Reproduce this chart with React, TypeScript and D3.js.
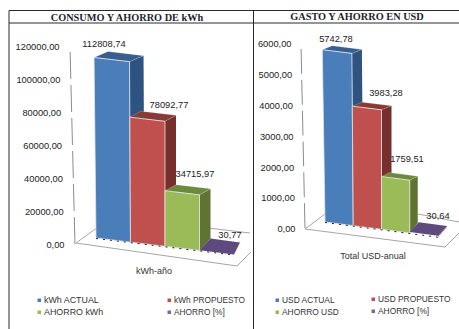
import React from "react";
import * as d3 from "d3";

// Energy panel
const kwhSeries = ["kWh ACTUAL", "kWh PROPUESTO", "AHORRO kWh", "AHORRO [%]"];
const kwhValues = [112808.74, 78092.77, 34715.97, 30.77];
const kwhLabels = ["112808,74", "78092,77", "34715,97", "30,77"];
const kwhTicks = [0, 20000, 40000, 60000, 80000, 100000, 120000];

// Cost panel
const usdSeries = ["USD ACTUAL", "USD PROPUESTO", "AHORRO USD", "AHORRO [%]"];
const usdValues = [5742.78, 3983.28, 1759.51, 30.64];
const usdLabels = ["5742,78", "3983,28", "1759,51", "30,64"];
const usdTicks = [0, 1000, 2000, 3000, 4000, 5000, 6000];

const FRONT = ["#4a7ebb", "#c0504d", "#9bbb59", "#604a7b"];
const SIDE = ["#2f5380", "#772f2d", "#5f7432", "#4d3b66"];
const TOP = ["#365f8f", "#873a37", "#6d8a3c", "#5f4a80"];
const LEGEND = ["#4a7ebb", "#c0504d", "#9bbb59", "#8064a2"];

const SANS = "'Liberation Sans', Arial, sans-serif";
const SERIF = "'Liberation Serif', 'Times New Roman', serif";
const pts = d3.line<number[]>().curve(d3.curveLinearClosed);

type Panel = {
  series: string[];
  values: number[];
  labels: string[];
  ticks: number[];
  axisTitle: string;
  axisTitleAt: number[];
  plot: number[];
  barMax: number;
  baseLeft: number;
  baseSlope: number;
  depthNear: number[];
  depthFar: number[];
  topRise: number;
  floorRise: number;
  tickRange: number[];
  axisX: number[];
  tickGap: number;
  floor: number[][];
  backEdge: number[][];
  labelAt: number[][];
  legendX: number[];
  legendY: number[][];
  legendSize: number[];
  converge: number;
};

const panels: Panel[] = [
  {
    series: kwhSeries,
    values: kwhValues,
    labels: kwhLabels,
    ticks: kwhTicks,
    axisTitle: "kWh-año",
    axisTitleAt: [154, 271],
    plot: [96, 234],
    barMax: 192,
    baseLeft: 238,
    baseSlope: 0.12,
    depthNear: [14, 11, 11, 11],
    depthFar: [14, 11, 11, 6],
    topRise: 6,
    floorRise: 12,
    tickRange: [245, 47],
    axisX: [75, 70],
    tickGap: 10.5,
    floor: [[76, 243], [98, 227], [237, 266]],
    backEdge: [[208, 228], [250, 233]],
    labelAt: [[104, 44], [169, 105], [195, 174], [230, 235]],
    legendX: [39, 169],
    legendY: [[300, 312], [300, 312]],
    legendSize: [8.9, 8.3],
    converge: 0.03,
  },
  {
    series: usdSeries,
    values: usdValues,
    labels: usdLabels,
    ticks: usdTicks,
    axisTitle: "Total USD-anual",
    axisTitleAt: [373, 256],
    plot: [325, 438],
    barMax: 180,
    baseLeft: 222,
    baseSlope: 0.13,
    depthNear: [10, 10, 8, 9],
    depthFar: [10, 10, 8, 9],
    topRise: 4,
    floorRise: 10,
    tickRange: [229, 44],
    axisX: [305, 301],
    tickGap: 9.5,
    floor: [[305, 229], [325, 214], [445, 247]],
    backEdge: [[418, 214], [459, 222]],
    labelAt: [[336, 39], [386, 93], [407, 159], [438, 216]],
    legendX: [277, 373],
    legendY: [[300, 312], [299, 311]],
    legendSize: [8.4, 8.4],
    converge: 0.05,
  },
];

function Chart({ p }: { p: Panel }) {
  const x = d3.scaleBand<number>().domain(p.values.map((_, i) => i)).range(p.plot as [number, number]);
  const top = p.ticks[p.ticks.length - 1];
  const barH = d3.scaleLinear().domain([0, top]).range([0, p.barMax]);
  const tickY = d3.scaleLinear().domain([0, top]).range(p.tickRange);
  const axisAt = d3.scaleLinear().domain(p.tickRange).range(p.axisX);
  const fmt = (v: number) => d3.format(".2f")(v).replace(".", ",");
  const baseY = (px: number) => p.baseLeft + (px - p.plot[0]) * p.baseSlope;
  const pivot = p.plot[0] + x.bandwidth() * 2;

  const [fl, bl, fr] = p.floor;
  const lastBase = baseY(p.plot[1]);

  return (
    <g>
      {/* floor outline, open on the far side */}
      <polyline
        points={[bl, fl, fr].map((c) => c.join(",")).join(" ")}
        fill="none"
        stroke="#a6a6a6"
        strokeWidth={1}
      />
      <line
        x1={fr[0]}
        y1={fr[1]}
        x2={fr[0] + 14}
        y2={fr[1] - 14}
        stroke="#a6a6a6"
      />
      <line
        x1={p.backEdge[0][0]}
        y1={p.backEdge[0][1]}
        x2={p.backEdge[1][0]}
        y2={p.backEdge[1][1]}
        stroke="#a6a6a6"
      />

      {/* value axis, broken next to each tick label */}
      {p.ticks.slice(1).map((t, i) => {
        const y0 = tickY(p.ticks[i]);
        const y1 = tickY(t);
        return (
          <line
            key={t}
            x1={axisAt(y0 - 1)}
            y1={y0 - 1}
            x2={axisAt(y1 + 5)}
            y2={y1 + 5}
            stroke="#8c8c8c"
            strokeWidth={1}
          />
        );
      })}
      {p.ticks.map((t) => (
        <text
          key={t}
          x={axisAt(tickY(t)) - p.tickGap}
          y={tickY(t)}
          dy="0.35em"
          textAnchor="end"
          fontFamily={SANS}
          fontSize={9.3}
          fill="#222"
        >
          {fmt(t)}
        </text>
      ))}

      {/* bars are drawn back to front along the run of categories */}
      {p.values.map((v, i) => {
        const x0 = x(i) as number;
        const x1 = x0 + x.bandwidth();
        const h = barH(v);
        const rise = p.floorRise + (p.topRise - p.floorRise) * Math.min(1, h / 40);
        const lean = (px: number) =>
          px - p.converge * Math.max(0, pivot - px) * (h / p.barMax);
        const tl = [lean(x0), baseY(x0) - h];
        const tr = [lean(x1), baseY(x1) - h];
        const bb = [x1, baseY(x1)];
        const br = [x1 + p.depthFar[i], baseY(x1) - p.floorRise];
        const tb = [tr[0] + p.depthFar[i], tr[1] - rise];
        const tbl = [tl[0] + p.depthNear[i], tl[1] - rise];
        return (
          <g key={i}>
            <path d={pts([tr, tb, br, bb]) as string} fill={SIDE[i]} />
            <path d={pts([tl, tr, tb, tbl]) as string} fill={TOP[i]} stroke={h > 5 ? "#ffffff55" : "none"} strokeWidth={0.6} />
            {h > 5 && (
              <path
                d={pts([tl, tr, bb, [x0, baseY(x0)]]) as string}
                fill={FRONT[i]}
                stroke="#e4e4e4"
                strokeWidth={0.8}
              />
            )}
          </g>
        );
      })}

      {/* dotted rim along the foot of the bars */}
      <line
        x1={p.plot[0]}
        y1={baseY(p.plot[0]) + 0.5}
        x2={p.plot[1]}
        y2={lastBase + 0.5}
        stroke="#222"
        strokeWidth={1}
        strokeDasharray="2 5"
      />

      {p.labels.map((l, i) => (
        <text
          key={l}
          x={p.labelAt[i][0]}
          y={p.labelAt[i][1]}
          dy="0.35em"
          textAnchor="middle"
          fontFamily={SANS}
          fontSize={9.3}
          fill="#222"
        >
          {l}
        </text>
      ))}

      <text
        x={p.axisTitleAt[0]}
        y={p.axisTitleAt[1]}
        dy="0.35em"
        textAnchor="middle"
        fontFamily={SANS}
        fontSize={9}
        fill="#333"
      >
        {p.axisTitle}
      </text>

      {p.series.map((s, i) => {
        const col = i % 2;
        const row = Math.floor(i / 2);
        const lx = p.legendX[col];
        const ly = p.legendY[col][row];
        return (
          <g key={s}>
            <rect x={lx - 1.5} y={ly - 1.5} width={3.5} height={3.5} fill={LEGEND[i]} />
            <text x={lx + 5} y={ly} dy="0.35em" fontFamily={SANS} fontSize={p.legendSize[col]} fill="#333">
              {s}
            </text>
          </g>
        );
      })}
    </g>
  );
}

export default function App() {
  return (
    <svg
      width={459}
      height={329}
      style={{ position: "absolute", left: 0, top: 0, background: "#fff" }}
    >
      {panels.map((p) => (
        <Chart key={p.axisTitle} p={p} />
      ))}

      {/* table frame around the two charts */}
      <path d="M9 329V10.5H459M9 23H459M253.5 10.5V329" fill="none" stroke="#2a2a2a" strokeWidth={1} />
      <text x={127} y={17} dy="0.35em" textAnchor="middle" fontFamily={SERIF} fontWeight="bold" fontSize={10.3} fill="#1f1f2e">
        CONSUMO Y AHORRO DE kWh
      </text>
      <text x={357} y={16.5} dy="0.35em" textAnchor="middle" fontFamily={SERIF} fontWeight="bold" fontSize={10.3} fill="#1f1f2e">
        GASTO Y AHORRO EN USD
      </text>
    </svg>
  );
}
